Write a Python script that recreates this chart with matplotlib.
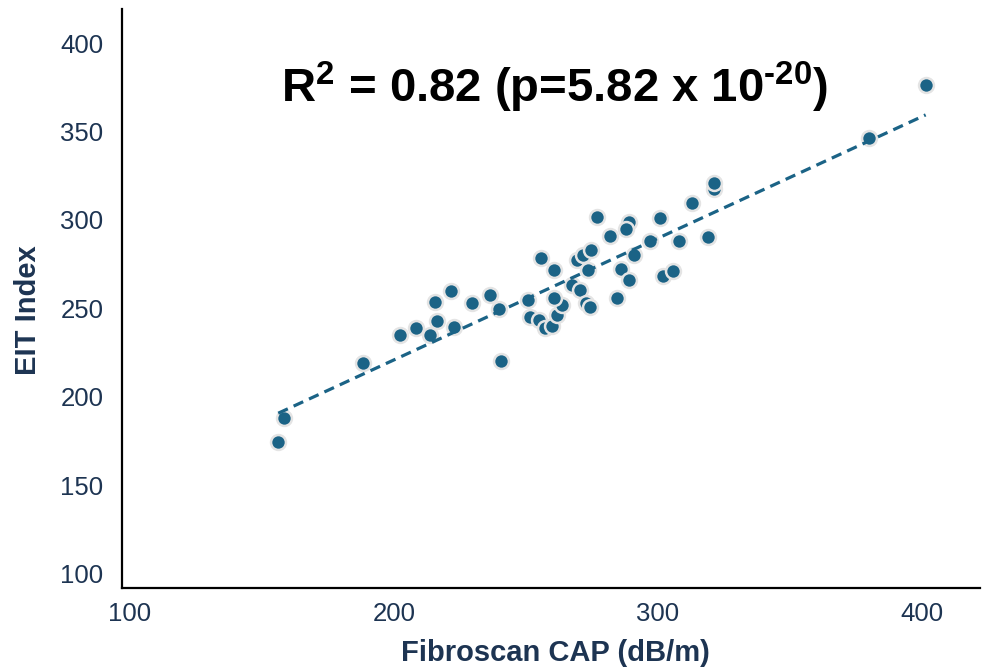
import numpy as np
import matplotlib
matplotlib.use("Agg")
import matplotlib.pyplot as plt

plt.rcParams["font.family"] = ["Liberation Sans", "DejaVu Sans"]
plt.rcParams["mathtext.fontset"] = "custom"
plt.rcParams["mathtext.rm"] = "Liberation Sans:bold"
plt.rcParams["mathtext.bf"] = "Liberation Sans:bold"
plt.rcParams["mathtext.default"] = "bf"

# Fibroscan CAP (dB/m) vs EIT index, one point per subject
cap = [156.2, 158.4, 188.4, 202.4, 208.4, 213.5, 216.3, 215.4, 221.6, 222.6,
       229.6, 236.5, 239.8, 240.5, 250.8, 251.6, 254.8, 257.3, 259.7, 261.7,
       263.6, 260.7, 255.7, 260.7, 267.4, 270.6, 272.9, 274.1, 269.3, 271.6,
       274.6, 273.7, 276.9, 282.0, 288.9, 287.9, 284.6, 286.0, 288.9, 290.8,
       296.9, 300.9, 301.9, 305.9, 307.9, 312.9, 318.9, 321.1, 321.1, 380.1,
       401.4]
eit = [174.5, 187.8, 219.2, 234.9, 238.7, 234.9, 243.0, 253.4, 260.0, 239.3,
       253.2, 257.6, 249.8, 220.4, 254.7, 244.9, 243.4, 238.7, 240.0, 246.0,
       251.9, 255.9, 278.3, 271.7, 263.2, 260.4, 253.2, 250.9, 277.4, 280.2,
       283.0, 271.7, 301.5, 290.9, 299.0, 294.7, 256.0, 272.1, 266.0, 280.2,
       288.1, 301.4, 268.3, 271.4, 288.1, 309.6, 290.1, 317.8, 320.9, 346.2,
       376.4]

x_ticks = [100, 200, 300, 400]
y_ticks = [100, 150, 200, 250, 300, 350, 400]

point_color = "#1b6386"
text_color = "#1d3452"

fig = plt.figure(figsize=(9.82, 6.67), dpi=100)
ax = fig.add_axes([0.1239, 0.1184, 0.998 - 0.1239, 0.9865 - 0.1184])

ax.scatter(cap, eit, s=115, color=point_color, edgecolors="#e4e4e4",
           linewidths=1.8, zorder=2)

# least-squares trend line across the observed CAP range
slope, intercept = np.polyfit(cap, eit, 1)
xs = np.array([min(cap), max(cap)])
ax.plot(xs, slope * xs + intercept, color=point_color, lw=2.3,
        dashes=(3.3, 2.0), zorder=3)

ax.set_xlim(96.9, 422)
ax.set_ylim(91.7, 419.4)
ax.set_xticks(x_ticks)
ax.set_yticks(y_ticks)
ax.tick_params(length=0, labelsize=18.5, labelcolor=text_color)
ax.tick_params(axis="y", pad=13)
ax.tick_params(axis="x", pad=10)

for side in ("top", "right"):
    ax.spines[side].set_visible(False)
for side in ("left", "bottom"):
    ax.spines[side].set_linewidth(1.6)
    ax.spines[side].set_color("black")

ax.set_xlabel("Fibroscan CAP (dB/m)", fontsize=21, fontweight="bold",
              color=text_color)
ax.set_ylabel("EIT Index", fontsize=21, fontweight="bold", color=text_color)
ax.xaxis.set_label_coords(0.505, -0.088)
ax.yaxis.set_label_coords(-0.093, 0.48)

ax.text(0.504, 0.865, r"R$^{2}$ = 0.82 (p=5.82 x 10$^{\text{-}20}$)",
        transform=ax.transAxes, ha="center", va="center",
        fontsize=34, fontweight="bold", color="black")

fig.savefig("out.png", dpi=100)
